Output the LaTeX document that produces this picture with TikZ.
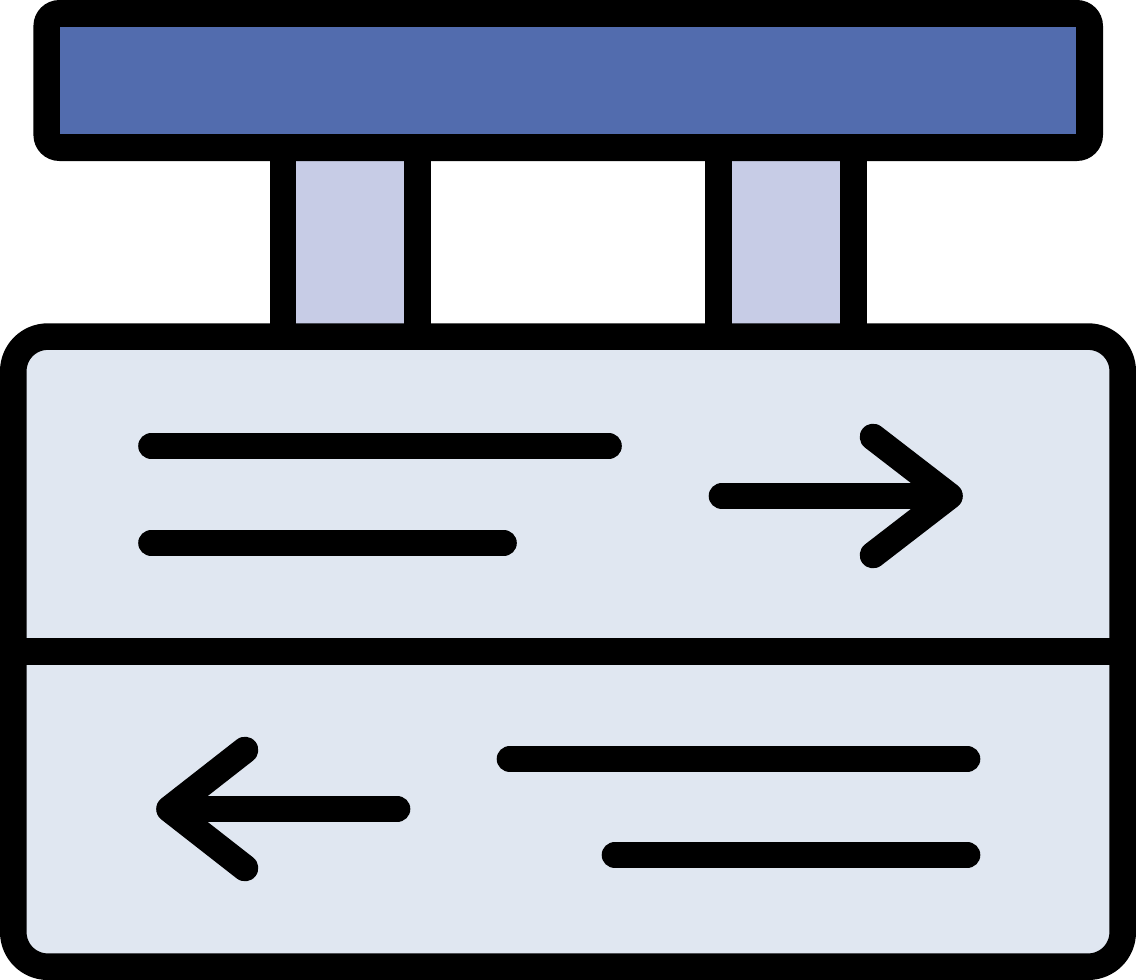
\documentclass[tikz,border=0pt]{standalone}
\usepackage{tikz}
\definecolor{barblue}{HTML}{526CAE}
\definecolor{postlilac}{HTML}{C7CCE6}
\definecolor{boardpale}{HTML}{E0E7F1}
\tikzset{
    outline/.style={draw=black, line width=0.532cm, line join=round},
    stroke/.style={black, line width=0.532cm, line cap=round, line join=round}
}
\begin{document}
\begin{tikzpicture}[x=0.02cm, y=-0.02cm]
                    \useasboundingbox (0,0) rectangle (1136,980);
                    \fill [postlilac] (282.8,148) rectangle (417.5,337);
                    \fill [postlilac] (718.7,148) rectangle (853.5,337);
                    \draw [outline] (282.8,148) -- (282.8,337);
                    \draw [outline] (417.5,148) -- (417.5,337);
                    \draw [outline] (718.7,148) -- (718.7,337);
                    \draw [outline] (853.5,148) -- (853.5,337);
                    \fill [black, rounded corners=0.52cm] (33.4,0) rectangle (1103,161);
                    \fill [barblue] (60,26.7) rectangle (1076.4,134.4);
                    \draw [outline, fill=boardpale, rounded corners=0.69cm] (13.3,336.6) rectangle (1122.7,966.7);
                    \draw [outline] (13.3,651.5) -- (1122.7,651.5);
                    \draw [stroke] (151.5,446) -- (608.5,446);
                    \draw [stroke] (151.5,543) -- (503.5,543);
                    \draw [stroke] (722,496) -- (949,496);
                    \draw [stroke] (873,437) -- (949.5,496) -- (873,555);
                    \draw [stroke] (510,759) -- (967,759);
                    \draw [stroke] (615,855) -- (967,855);
                    \draw [stroke] (397,809) -- (170,809);
                    \draw [stroke] (245,750) -- (169.5,809) -- (245,868);
                \end{tikzpicture}
\end{document}
